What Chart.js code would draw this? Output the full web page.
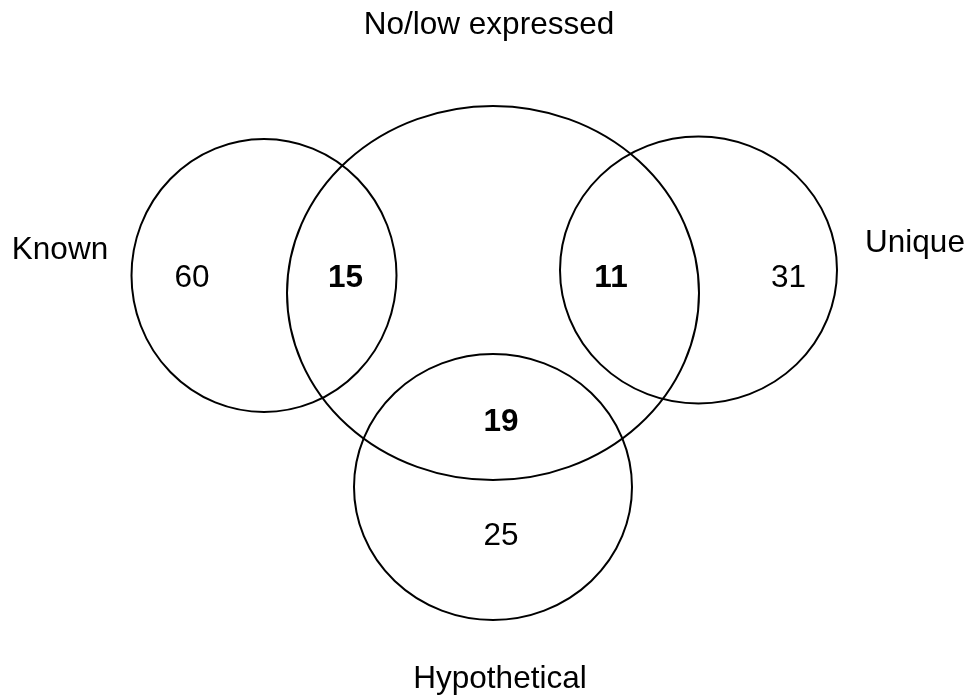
<!DOCTYPE html>
<html>
<head>
<meta charset="utf-8">
<script src="https://cdn.jsdelivr.net/npm/chart.js@4.4.1/dist/chart.umd.min.js"></script>
<style>
  html, body { margin: 0; padding: 0; background: #fff; }
  #wrap { width: 970px; height: 698px; position: relative; }
</style>
</head>
<body>
<div id="wrap"><canvas id="venn"></canvas></div>
<script>
// ========== Data ==========
const setNames = ["Known", "No/low expressed", "Unique", "Hypothetical"];
const regionNames = ["Known only", "Known & No/low", "No/low & Unique", "Unique only", "No/low & Hypothetical", "Hypothetical only"];
const regionCounts = [60, 15, 11, 31, 19, 25];
const regionSetCount = [1, 2, 2, 1, 2, 1];

// ========== Layout (plot units = pixels of the 970x698 frame) ==========
const ellipses = [
  { cx: 264, cy: 275.5, rx: 132.5, ry: 136.5 },
  { cx: 493, cy: 293, rx: 206, ry: 187 },
  { cx: 698.5, cy: 270, rx: 138.5, ry: 133.5 },
  { cx: 493, cy: 487, rx: 139, ry: 133 },
];
const setLabelPos = [
  { x: 60, y: 259 },
  { x: 489, y: 34 },
  { x: 915, y: 252 },
  { x: 500, y: 688 },
];
const regionPos = [
  { x: 192, y: 287 },
  { x: 345.5, y: 287 },
  { x: 611, y: 287 },
  { x: 788.5, y: 287 },
  { x: 501, y: 431 },
  { x: 501, y: 545 },
];

const FONT = "Arial, 'Liberation Sans', sans-serif";
const FONT_SIZE = "31.5px ";

// ellipses + set names drawn through the chart scales
const vennPlugin = {
  id: "venn",
  afterDatasetsDraw(chart) {
    const { ctx, scales } = chart;
    const sx = scales.x, sy = scales.y;
    ctx.save();
    ctx.strokeStyle = "#000";
    ctx.lineWidth = 2;
    ellipses.forEach((e) => {
      const px = sx.getPixelForValue(e.cx);
      const py = sy.getPixelForValue(e.cy);
      const rx = Math.abs(sx.getPixelForValue(e.cx + e.rx) - px);
      const ry = Math.abs(sy.getPixelForValue(e.cy + e.ry) - py);
      ctx.beginPath();
      ctx.ellipse(px, py, rx, ry, 0, 0, Math.PI * 2);
      ctx.stroke();
    });

    ctx.fillStyle = "#000";
    ctx.textAlign = "center";
    ctx.textBaseline = "alphabetic";
    ctx.font = FONT_SIZE + FONT;
    setNames.forEach((name, i) => {
      const p = setLabelPos[i];
      ctx.fillText(name, sx.getPixelForValue(p.x), sy.getPixelForValue(p.y));
    });

    // region counts at the (invisible) scatter points
    const meta = chart.getDatasetMeta(0);
    meta.data.forEach((pt, i) => {
      ctx.font = (regionSetCount[i] > 1 ? "bold " : "") + FONT_SIZE + FONT;
      ctx.fillText(String(regionCounts[i]), pt.x, pt.y);
    });
    ctx.restore();
  },
};

new Chart(document.getElementById("venn"), {
  type: "scatter",
  data: {
    labels: regionNames,
    datasets: [
      {
        label: "Regions",
        data: regionPos.map((p, i) => ({ x: p.x, y: p.y, v: regionCounts[i] })),
        pointRadius: 0,
        pointHoverRadius: 0,
      },
    ],
  },
  options: {
    responsive: true,
    maintainAspectRatio: false,
    animation: false,
    layout: { padding: 0 },
    plugins: { legend: { display: false }, tooltip: { enabled: false } },
    scales: {
      x: { type: "linear", min: 0, max: 970, display: false },
      y: { type: "linear", min: 0, max: 698, reverse: true, display: false },
    },
  },
  plugins: [vennPlugin],
});
</script>
</body>
</html>
